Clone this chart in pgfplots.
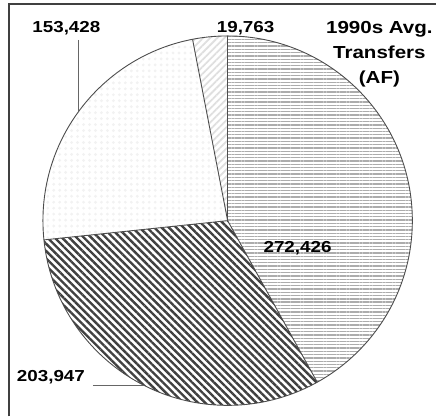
\documentclass[border=0pt]{standalone}
\usepackage{fontspec}
\setmainfont{Liberation Sans}[FakeStretch=1.18]
\usepackage{pgfplots}
\pgfplotsset{compat=1.18}
\usepackage{pgfplotstable}
\usetikzlibrary{patterns.meta}

% 1990s average transfers (AF), clockwise from 12 o'clock
\pgfplotstableread{
value
272426
203947
153428
19763
}\piedata

\pgfplotstablegetelem{0}{value}\of\piedata \edef\va{\pgfplotsretval}
\pgfplotstablegetelem{1}{value}\of\piedata \edef\vb{\pgfplotsretval}
\pgfplotstablegetelem{2}{value}\of\piedata \edef\vc{\pgfplotsretval}
\pgfplotstablegetelem{3}{value}\of\piedata \edef\vd{\pgfplotsretval}
\edef\tot{\fpeval{\va+\vb+\vc+\vd}}
\edef\aA{90}
\edef\aB{\fpeval{90-360*\va/\tot}}
\edef\aC{\fpeval{\aB-360*\vb/\tot}}
\edef\aD{\fpeval{\aC-360*\vc/\tot}}
\edef\aE{-270}

\tikzset{
  wedge/.style={draw=black!70, line width=0.9pt},
  sA/.style={pattern={Lines[angle=0,distance=3.3pt,line width=1.3pt]}, pattern color=gray!65},
  sB/.style={pattern={Lines[angle=-45,distance=5.2pt,line width=2.4pt]}, pattern color=black!75},
  sC/.style={pattern={Dots[distance=6pt,radius=1.6pt]}, pattern color=gray!10},
  sD/.style={pattern={Lines[angle=45,distance=5pt,line width=1.8pt]}, pattern color=gray!25},
  lbl/.style={font=\bfseries\fontsize{16}{19}\selectfont, inner sep=0pt},
}

\begin{document}%
\begin{tikzpicture}
\begin{axis}[hide axis, scale only axis, width=437bp, height=417bp,
  xmin=0, xmax=437, ymin=0, ymax=417, clip=false]
  \path (axis cs:0,0) rectangle (axis cs:437,417);
  \def\cx{228}\def\cy{196}\def\R{185bp}
  \fill[sA] (axis cs:\cx,\cy) -- ++(\aA:\R) arc[start angle=\aA, end angle=\aB, radius=\R] -- cycle;
  \fill[sB] (axis cs:\cx,\cy) -- ++(\aB:\R) arc[start angle=\aB, end angle=\aC, radius=\R] -- cycle;
  \fill[sC] (axis cs:\cx,\cy) -- ++(\aC:\R) arc[start angle=\aC, end angle=\aD, radius=\R] -- cycle;
  \fill[sD] (axis cs:\cx,\cy) -- ++(\aD:\R) arc[start angle=\aD, end angle=\aE, radius=\R] -- cycle;
  \draw[wedge] (axis cs:\cx,\cy) circle[radius=\R];
  \draw[wedge] (axis cs:\cx,\cy) -- ++(\aA:\R);
  \draw[wedge] (axis cs:\cx,\cy) -- ++(\aB:\R);
  \draw[wedge] (axis cs:\cx,\cy) -- ++(\aC:\R);
  \draw[wedge] (axis cs:\cx,\cy) -- ++(\aD:\R);
  % frame
  \draw[black!75, line width=1.4pt] (axis cs:9,0) -- (axis cs:9,413) -- (axis cs:437,413);
  % labels
  \node[lbl] at (axis cs:298,168) {272,426};
  \node[lbl] at (axis cs:51,39) {203,947};
  \draw[black!60, line width=1pt] (axis cs:93,31) -- (axis cs:144,31);
  \node[lbl] at (axis cs:66.5,389) {153,428};
  \draw[black!60, line width=1pt] (axis cs:79,377) -- (axis cs:79,306);
  \node[lbl] at (axis cs:246,389) {19,763};
  \node[font=\bfseries\fontsize{17.5}{25}\selectfont, align=center, inner sep=0pt, anchor=north]
    at (axis cs:380,396) {1990s Avg.\\Transfers\\(AF)};
\end{axis}
\end{tikzpicture}%
\end{document}
